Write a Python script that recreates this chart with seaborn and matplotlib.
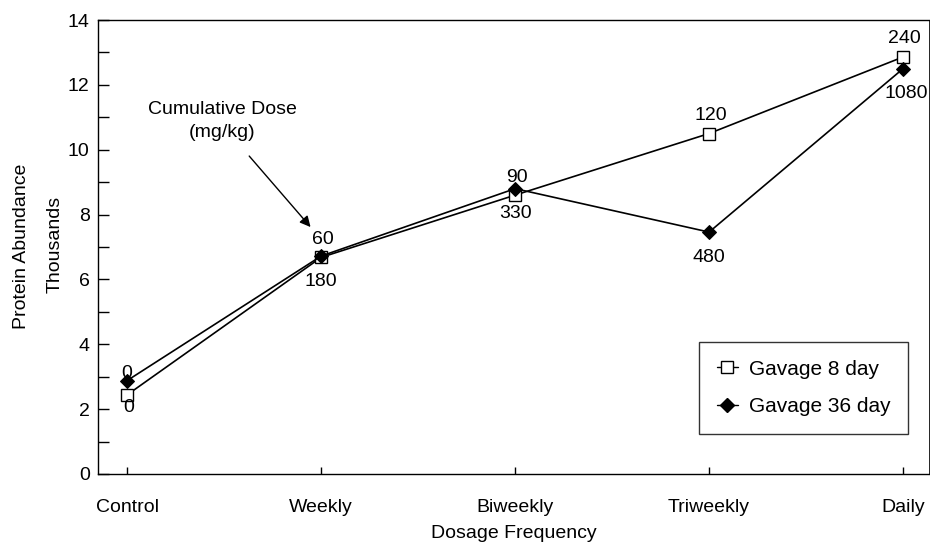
import pandas as pd
import seaborn as sns
import matplotlib.pyplot as plt
from matplotlib.lines import Line2D

# --- data ---
kategorier = ["Control", "Weekly", "Biweekly", "Triweekly", "Daily"]
gavage_8 = [2.44, 6.68, 8.6, 10.5, 12.86]
gavage_36 = [2.88, 6.72, 8.8, 7.46, 12.5]
dos_8 = ["0", "60", "90", "120", "240"]
dos_36 = ["0", "180", "330", "480", "1080"]
y_ticks = [0, 2, 4, 6, 8, 10, 12, 14]

FS = 14

sns.set_theme(style="ticks")
plt.rcParams['font.family'] = ['Liberation Sans', 'DejaVu Sans']
plt.rcParams['text.color'] = 'black'
plt.rcParams['xtick.color'] = 'black'
plt.rcParams['ytick.color'] = 'black'

df = pd.DataFrame({
    "pos": list(range(len(kategorier))) * 2,
    "varde": gavage_8 + gavage_36,
    "serie": ["Gavage 8 day"] * 5 + ["Gavage 36 day"] * 5,
})

fig = plt.figure(figsize=(9.3, 5.44), dpi=100)
ax = fig.add_axes([0.1054, 0.1287, 0.8936, 0.8345])

d8 = df[df["serie"] == "Gavage 8 day"]
d36 = df[df["serie"] == "Gavage 36 day"]
sns.lineplot(data=d8, x="pos", y="varde", ax=ax, color="black", lw=1.2,
             marker="s", markersize=8.5, markerfacecolor="white",
             markeredgecolor="black", markeredgewidth=1.0, legend=False, zorder=3)
sns.lineplot(data=d36, x="pos", y="varde", ax=ax, color="black", lw=1.2,
             marker="D", markersize=7.5, markerfacecolor="black",
             markeredgecolor="black", legend=False, zorder=3)

# dos-etiketter (8 dagar ovanför, 36 dagar under, omvänt vid Control)
for i in range(len(kategorier)):
    off8 = -9 if i == 0 else 13
    off36 = 5 if i == 0 else -18
    ax.annotate(dos_8[i], (i, gavage_8[i]), xytext=(1, off8), textcoords="offset points",
                ha="center", va="center", fontsize=FS, zorder=4)
    ax.annotate(dos_36[i], (i, gavage_36[i]), xytext=(2 if i == 4 else 0, off36),
                textcoords="offset points", ha="center", va="center", fontsize=FS, zorder=4)

ax.annotate("", xy=(0.955, 7.55), xytext=(0.62, 9.87),
            arrowprops=dict(arrowstyle="-|>", color="black", lw=1.0, mutation_scale=16))
ax.text(0.49, 10.88, "Cumulative Dose\n(mg/kg)", ha="center", va="center",
        fontsize=FS, linespacing=1.45)

ax.set_xlim(-0.15, 4.134)
ax.set_ylim(0, 14)
ax.set_xticks(range(len(kategorier)))
ax.set_xticklabels(kategorier, fontsize=FS)
ax.set_yticks(y_ticks)
ax.set_yticklabels([str(v) for v in y_ticks], fontsize=FS)
ax.set_yticks([1, 3, 5, 7, 9, 11, 13], minor=True)
ax.tick_params(axis="both", which="both", direction="in")
ax.tick_params(axis="y", which="both", length=8, width=1.0, pad=6)
ax.tick_params(axis="x", length=5, width=1.0, pad=18)
for s in ax.spines.values():
    s.set_color("black")
    s.set_linewidth(1.0)
ax.spines["right"].set_linewidth(0.6)
ax.set_xlabel("")
ax.set_ylabel("")

fig.text(0.552, 0.02, "Dosage Frequency", ha="center", va="center", fontsize=FS)
fig.text(0.0226, 0.548, "Protein Abundance", rotation=90, ha="center", va="center", fontsize=FS)
fig.text(0.059, 0.55, "Thousands", rotation=90, ha="center", va="center", fontsize=FS)

handles = [
    Line2D([], [], color="black", lw=1.0, marker="s", markersize=8.5,
           markerfacecolor="white", markeredgecolor="black"),
    Line2D([], [], color="black", lw=1.0, marker="D", markersize=7.5,
           markerfacecolor="black"),
]
leg = ax.legend(handles, ["Gavage 8 day", "Gavage 36 day"], loc="lower right",
                bbox_to_anchor=(0.975, 0.088), fontsize=15, frameon=True,
                fancybox=False, edgecolor="black", handlelength=1.0,
                borderpad=0.85, labelspacing=0.9, handletextpad=0.55,
                borderaxespad=0.0)
leg.get_frame().set_linewidth(1.0)

plt.savefig("out.png", dpi=100)
